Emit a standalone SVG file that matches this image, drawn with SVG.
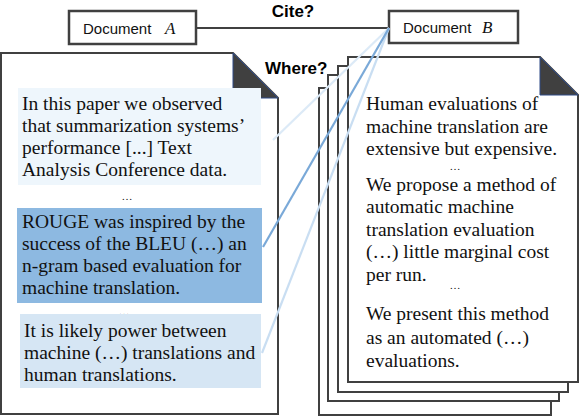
<svg xmlns="http://www.w3.org/2000/svg" width="580" height="416" viewBox="0 0 580 416">
<defs>
<style>
.page{fill:#fff;stroke:#404040;stroke-width:2}
.fold{fill:#404040;stroke:#2e4a86;stroke-width:1}
.box{fill:#fff;stroke:#404040;stroke-width:2.5}
.lbl{font-family:"Liberation Sans",Arial,sans-serif;font-size:15px;fill:#111}
.math{font-family:"Liberation Serif","Times New Roman",serif;font-style:italic;font-size:17px;fill:#111}
.q{font-family:"Liberation Sans",Arial,sans-serif;font-weight:bold;font-size:17px;fill:#000}
.t{font-family:"Liberation Serif","Times New Roman",serif;font-size:19.5px;fill:#111}
.dots{font-family:"Liberation Serif","Times New Roman",serif;font-size:11px;fill:#111;text-anchor:middle}
</style>
</defs>
<rect width="580" height="416" fill="#fff"/>

<g id="docA">
<rect class="box" x="69" y="11" width="127" height="33"/>
<text class="lbl" x="83" y="34">Document</text>
<text class="math" x="165" y="34">A</text>
</g>
<g id="docB">
<rect class="box" x="389" y="11" width="129" height="32"/>
<text class="lbl" x="403" y="33">Document</text>
<text class="math" x="482" y="33">B</text>
</g>

<g id="leftPage">
<polygon class="page" points="1,53 233,53 278,98 278,414 1,414"/>
<polygon class="fold" points="233,53 233,98 278,98"/>
<rect x="18" y="88" width="243" height="97" fill="#eef6fc"/>
<text class="t" x="22" y="110">In this paper we observed</text>
<text class="t" x="22" y="132">that summarization systems’</text>
<text class="t" x="22" y="154">performance [...] Text</text>
<text class="t" x="22" y="176">Analysis Conference data.</text>
<text class="dots" x="127" y="200">…</text>
<rect x="17" y="208" width="245" height="95" fill="#8db9e1"/>
<text class="t" x="22" y="228">ROUGE was inspired by the</text>
<text class="t" x="22" y="250">success of the BLEU (…) an</text>
<text class="t" x="22" y="272">n-gram based evaluation for</text>
<text class="t" x="22" y="294">machine translation.</text>
<text class="dots" x="124" y="315">…</text>
<rect x="20" y="314" width="241" height="74" fill="#d6e6f4"/>
<text class="t" x="24" y="337">It is likely power between</text>
<text class="t" x="24" y="359">machine (…) translations and</text>
<text class="t" x="24" y="381">human translations.</text>
</g>

<g id="stack">
<polygon class="page" points="319,88 513,88 551,126 551,415 319,415"/>
<polygon class="page" points="328,75 521,75 559,113 559,401 328,401"/>
<polygon class="page" points="338,66 530,66 568,104 568,392 338,392"/>
</g>

<g id="rightPage">
<polygon class="page" points="348,57 540,57 578,95 578,382 348,382"/>
<polygon class="fold" points="540,57 540,95 578,95"/>
<text class="t" x="366" y="110">Human evaluations of</text>
<text class="t" x="366" y="133">machine translation are</text>
<text class="t" x="366" y="155">extensive but expensive.</text>
<text class="dots" x="455" y="170">…</text>
<text class="t" x="366" y="191">We propose a method of</text>
<text class="t" x="366" y="213">automatic machine</text>
<text class="t" x="366" y="236">translation evaluation</text>
<text class="t" x="366" y="258">(…) little marginal cost</text>
<text class="t" x="366" y="281">per run.</text>
<text class="dots" x="455" y="289">…</text>
<text class="t" x="366" y="320">We present this method</text>
<text class="t" x="366" y="344">as an automated (…)</text>
<text class="t" x="366" y="367">evaluations.</text>
</g>

<g id="connectors" fill="none" stroke-width="2.2">
<line x1="196" y1="28" x2="389" y2="28" stroke="#404040" stroke-width="2"/>
<line x1="389" y1="28" x2="273" y2="140" stroke="#dceaf7"/>
<line x1="389" y1="28" x2="262" y2="353" stroke="#c9def2"/>
<line x1="389" y1="28" x2="263" y2="247" stroke="#7aa9d8"/>
</g>

<g id="labels">
<text class="q" x="293" y="17" text-anchor="middle">Cite?</text>
<text class="q" x="265" y="74">Where?</text>
</g>
</svg>
